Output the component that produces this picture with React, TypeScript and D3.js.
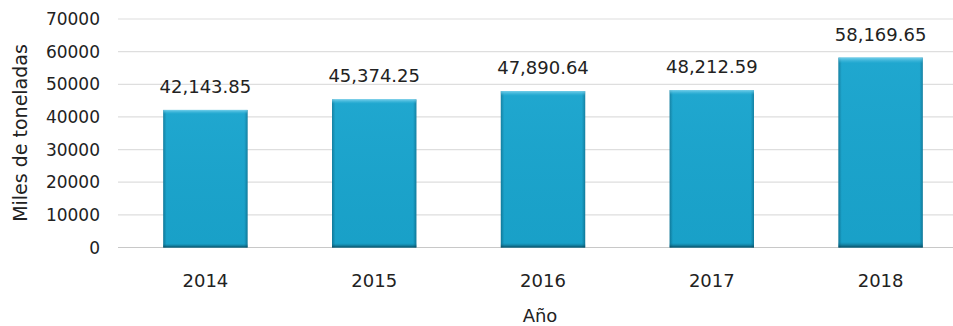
import React from "react";
import * as d3 from "d3";

const years = ["2014", "2015", "2016", "2017", "2018"];
const values = [42143.85, 45374.25, 47890.64, 48212.59, 58169.65];
const yTicks = [0, 10000, 20000, 30000, 40000, 50000, 60000, 70000];
const valueLabels = ["42,143.85", "45,374.25", "47,890.64", "48,212.59", "58,169.65"];

const W = 953;
const H = 326;
const FONT = "'DejaVu Sans', sans-serif";

export default function App() {
  const x = d3.scaleBand<string>().domain(years).range([121, 965]).paddingInner(0.5).paddingOuter(0.25);
  const y = d3.scaleLinear().domain([0, 70000]).range([247.5, 19]);
  const bw = x.bandwidth();
  return (
    <svg width={W} height={H} style={{ position: "absolute", left: 0, top: 0, background: "#fff" }}>
      <defs>
        <linearGradient id="barH" x1="0" x2="1" y1="0" y2="0">
          <stop offset="0" stopColor="#0d6f8e" />
          <stop offset="0.04" stopColor="#1aa3cb" />
          <stop offset="0.96" stopColor="#1aa3cb" />
          <stop offset="1" stopColor="#0d6f8e" />
        </linearGradient>
        <linearGradient id="barV" x1="0" x2="0" y1="0" y2="1">
          <stop offset="0" stopColor="#7fd4ee" stopOpacity="0.9" />
          <stop offset="0.03" stopColor="#2cb0d8" stopOpacity="0.3" />
          <stop offset="0.97" stopColor="#1596bc" stopOpacity="0.2" />
          <stop offset="1" stopColor="#073f52" stopOpacity="0.9" />
        </linearGradient>
      </defs>
      {yTicks.map((t) => (
        <g key={t}>
          <line x1={118} x2={W} y1={y(t)} y2={y(t)} stroke={t === 0 ? "#c8c8c8" : "#dedede"} strokeWidth={1.2} />
          <text x={100} y={y(t)} dy="0.36em" textAnchor="end" fontFamily={FONT} fontSize={17} fill="#222">
            {t}
          </text>
        </g>
      ))}
      {years.map((yr, i) => {
        const bx = x(yr)!;
        const by = y(values[i]);
        const bh = y(0) - by;
        return (
          <g key={yr}>
            <rect x={bx} y={by} width={bw} height={bh} fill="url(#barH)" />
            <rect x={bx} y={by} width={bw} height={bh} fill="url(#barV)" />
            <text x={bx + bw / 2} y={by - 17} textAnchor="middle" fontFamily={FONT} fontSize={18} fill="#222">
              {valueLabels[i]}
            </text>
            <text x={bx + bw / 2} y={287} textAnchor="middle" fontFamily={FONT} fontSize={18} fill="#222">
              {yr}
            </text>
          </g>
        );
      })}
      <text x={540} y={322} textAnchor="middle" fontFamily={FONT} fontSize={18} fill="#222">
        Año
      </text>
      <text
        transform={`translate(27, 133) rotate(-90)`}
        textAnchor="middle"
        fontFamily={FONT}
        fontSize={19}
        fill="#222"
      >
        Miles de toneladas
      </text>
    </svg>
  );
}
